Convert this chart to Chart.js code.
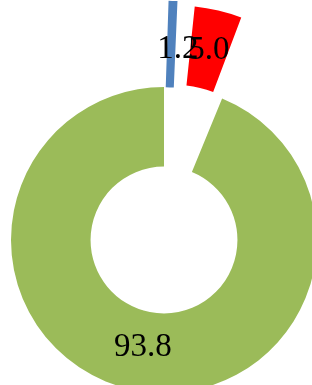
<!DOCTYPE html>
<html>
<head>
<meta charset="utf-8">
<script src="https://cdn.jsdelivr.net/npm/chart.js@4/dist/chart.umd.min.js"></script>
<style>
    html, body { margin: 0; padding: 0; background: #fff; overflow: hidden; width: 312px; height: 385px; }
    #wrap { position: absolute; left: 0; top: 0; width: 328px; height: 480px; }
</style>
</head>
<body>
<div id="wrap"><canvas id="chart" width="328" height="480"></canvas></div>
<script>
// Pie values (percent)
const categories = ['A', 'B', 'C'];
const values = [1.2, 5.0, 93.8];
const valueLabels = ['1.2', '5.0', '93.8'];
const sliceColors = ['#4F81BD', '#FF0000', '#9BBB59'];
// exploded slices (chart.js moves the arc by roughly 0.4x of this)
const sliceOffsets = [172, 196, 0];
// the thin blue slice gets a stroke of its own colour so it stays visible
const sliceBorders = [7, 0, 0];

// label placement relative to each slice (radius from centre, extra angle)
const labelRadius = [191, 195, 109];
const labelAngleShift = [0.035, 0, 0];

const sliceLabels = {
    id: 'sliceLabels',
    afterDatasetsDraw(chart) {
        const ctx = chart.ctx;
        const arcs = chart.getDatasetMeta(0).data;
        ctx.save();
        ctx.font = '33px "Liberation Serif", "Times New Roman", serif';
        ctx.fillStyle = '#000';
        ctx.textAlign = 'center';
        ctx.textBaseline = 'middle';
        arcs.forEach((arc, i) => {
            const mid = (arc.startAngle + arc.endAngle) / 2 + labelAngleShift[i];
            const x = arc.x + Math.cos(mid) * labelRadius[i];
            const y = arc.y + Math.sin(mid) * labelRadius[i];
            ctx.fillText(valueLabels[i], x, y);
        });
        ctx.restore();
    }
};

new Chart(document.getElementById('chart'), {
    type: 'doughnut',
    data: {
        labels: categories,
        datasets: [{
            data: values,
            backgroundColor: sliceColors,
            borderColor: sliceColors,
            borderWidth: sliceBorders,
            borderJoinStyle: 'miter',
            offset: sliceOffsets
        }]
    },
    options: {
        responsive: false,
        animation: false,
        radius: 153,
        cutout: '48%',
        layout: { padding: 0 },
        plugins: {
            legend: { display: false },
            tooltip: { enabled: false }
        }
    },
    plugins: [sliceLabels]
});
</script>
</body>
</html>
